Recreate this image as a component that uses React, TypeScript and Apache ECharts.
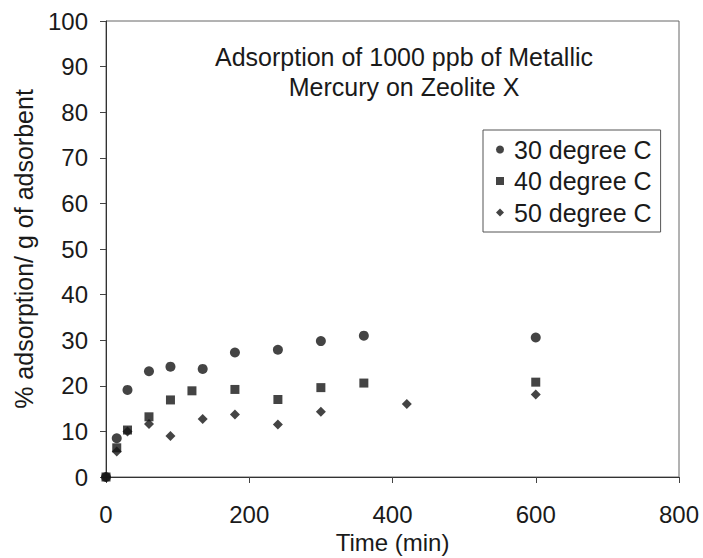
import React, { useEffect, useRef } from "react";
import * as echarts from "echarts";

const FONT = "'Liberation Sans', Arial, Helvetica, sans-serif";

const seriesNames = ["30 degree C", "40 degree C", "50 degree C"];

const time30 = [0, 15, 30, 60, 90, 135, 180, 240, 300, 360, 600];
const ads30 = [0, 8.5, 19.1, 23.2, 24.2, 23.7, 27.3, 27.9, 29.8, 31.0, 30.6];

const time40 = [0, 15, 30, 60, 90, 120, 180, 240, 300, 360, 600];
const ads40 = [0, 6.4, 10.3, 13.2, 16.9, 18.9, 19.2, 17.0, 19.6, 20.6, 20.8];

const time50 = [0, 15, 30, 60, 90, 135, 180, 240, 300, 420, 600];
const ads50 = [0, 5.6, 10.0, 11.6, 9.0, 12.7, 13.7, 11.5, 14.3, 16.0, 18.1];

const titleLines = ["Adsorption of 1000 ppb of Metallic", "Mercury on Zeolite X"];
const xAxisName = "Time (min)";
const yAxisName = "% adsorption/ g of adsorbent";

const pair = (xs: number[], ys: number[]) => xs.map((x, i) => [x, ys[i]]);

export default function App() {
  const ref = useRef<HTMLDivElement>(null);

  useEffect(() => {
    document.body.style.margin = "0";
    if (!ref.current) return;
    const chart = echarts.init(ref.current, null, { renderer: "svg" });
    const markColor = "#151515";
    const textColor = "#1a1a1a";
    chart.setOption({
      animation: false,
      backgroundColor: "#ffffff",
      grid: {
        left: 106,
        top: 21,
        right: 24,
        bottom: 81,
        show: true,
        borderColor: "#666",
        borderWidth: 1,
        outerBoundsMode: "none",
      },
      graphic: [
        {
          type: "text",
          x: 404,
          y: 57,
          style: {
            text: titleLines[0],
            align: "center",
            verticalAlign: "middle",
            font: `25px ${FONT}`,
            fill: textColor,
          },
        },
        {
          type: "text",
          x: 404,
          y: 87,
          style: {
            text: titleLines[1],
            align: "center",
            verticalAlign: "middle",
            font: `25px ${FONT}`,
            fill: textColor,
          },
        },
      ],
      legend: {
        orient: "vertical",
        left: 483,
        top: 130,
        padding: [7, 9, 7, 13],
        itemGap: 6.5,
        itemWidth: 8,
        itemHeight: 8,
        borderColor: "#555",
        borderWidth: 1,
        backgroundColor: "#fff",
        textStyle: {
          fontSize: 25,
          fontFamily: FONT,
          color: textColor,
          padding: [0, 0, 0, 5],
        },
        data: seriesNames,
      },
      xAxis: {
        type: "value",
        min: 0,
        max: 800,
        interval: 200,
        name: xAxisName,
        nameLocation: "middle",
        nameGap: 50,
        nameTextStyle: { fontSize: 24, fontFamily: FONT, color: textColor },
        axisLine: { show: true, lineStyle: { color: "#333", width: 1 } },
        axisTick: { show: true, length: 6, lineStyle: { color: "#444" } },
        axisLabel: { fontSize: 24, fontFamily: FONT, color: textColor, margin: 25 },
        splitLine: { show: false },
      },
      yAxis: {
        type: "value",
        min: 0,
        max: 100,
        interval: 10,
        name: yAxisName,
        nameLocation: "middle",
        nameGap: 70,
        nameTextStyle: { fontSize: 25, fontFamily: FONT, color: textColor },
        axisLine: { show: true, lineStyle: { color: "#333", width: 1 } },
        axisTick: { show: true, length: 6, lineStyle: { color: "#444" } },
        axisLabel: { fontSize: 24, fontFamily: FONT, color: textColor, margin: 18 },
        splitLine: { show: false },
      },
      series: [
        {
          name: seriesNames[0],
          type: "scatter",
          symbol: "circle",
          symbolSize: 10,
          itemStyle: { color: markColor },
          data: pair(time30, ads30),
        },
        {
          name: seriesNames[1],
          type: "scatter",
          symbol: "rect",
          symbolSize: 9,
          itemStyle: { color: markColor },
          data: pair(time40, ads40),
        },
        {
          name: seriesNames[2],
          type: "scatter",
          symbol: "diamond",
          symbolSize: 10,
          itemStyle: { color: markColor },
          data: pair(time50, ads50),
        },
      ],
    });
    return () => chart.dispose();
  }, []);

  return (
    <div
      ref={ref}
      style={{ position: "fixed", left: 0, top: 0, width: 703, height: 558 }}
    />
  );
}
